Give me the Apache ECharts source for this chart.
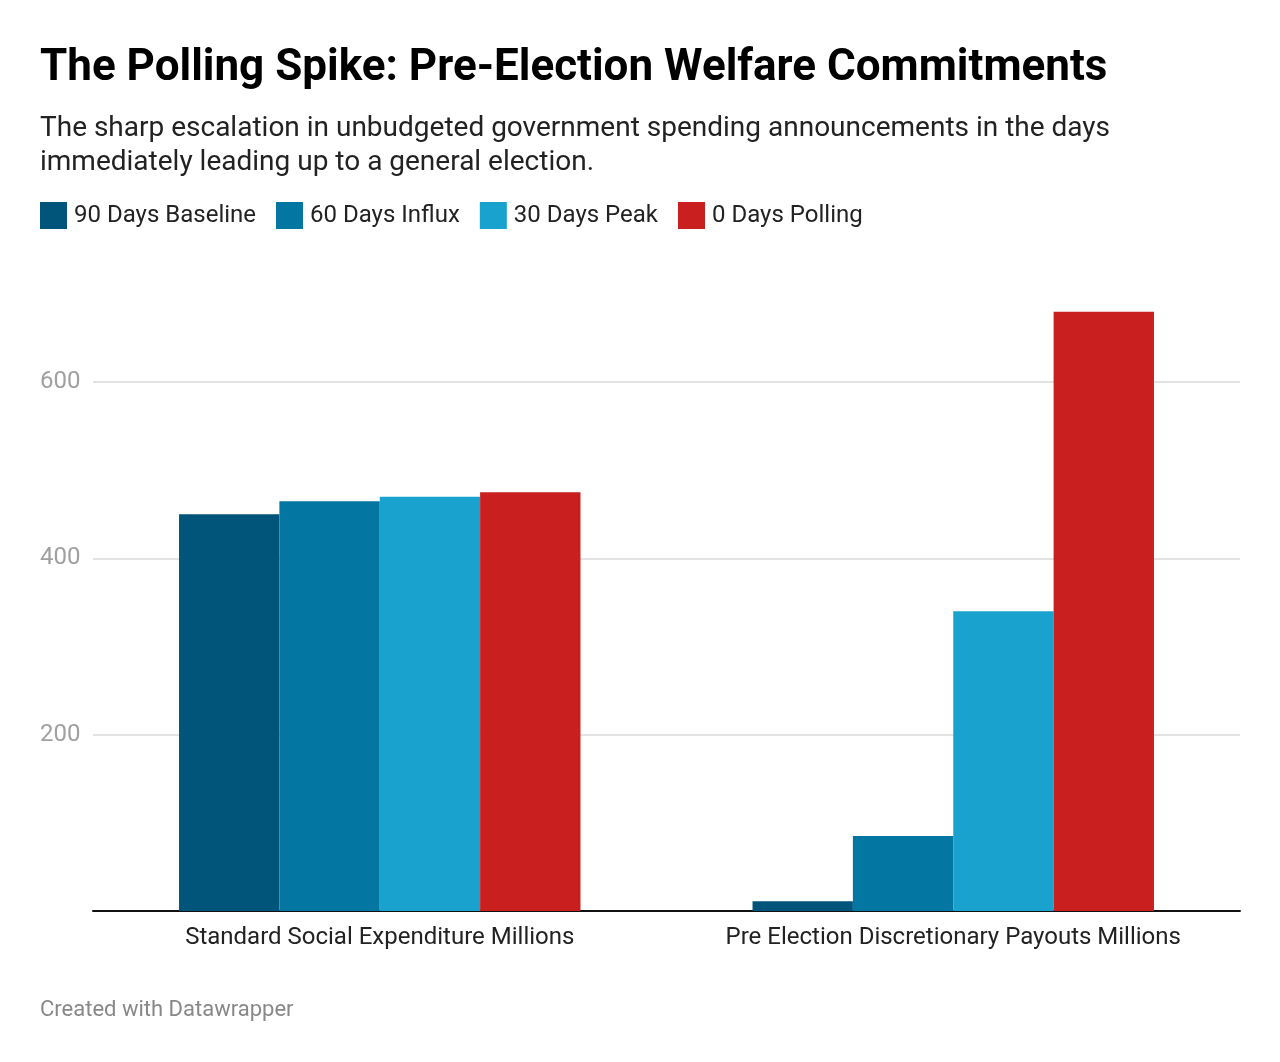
<!DOCTYPE html>
<html lang="en">
<head>
    <meta charset="UTF-8">
    <title>The Polling Spike</title>
    <script src="https://cdn.jsdelivr.net/npm/echarts@6/dist/echarts.min.js"></script>
    <style>
        html, body { margin: 0; padding: 0; background: #fff; }
    </style>
</head>
<body>
    <div id="main" style="width: 1280px;height: 1062px"></div>
    <script>
        // chart data
        var categories = ['Standard Social Expenditure Millions', 'Pre Election Discretionary Payouts Millions'];
        var seriesNames = ['90 Days Baseline', '60 Days Influx', '30 Days Peak', '0 Days Polling'];
        var days90 = [450, 11];
        var days60 = [465, 85];
        var days30 = [470, 340];
        var days0 = [475, 680];
        var colors = ['#01547a', '#0377a2', '#19a2ce', '#c91f1f'];

        var font = 'Roboto, "Noto Sans", sans-serif';
        var seriesData = [days90, days60, days30, days0];

        var mCharts = echarts.init(document.getElementById('main'));
        var option = {
            animation: false,
            color: colors,
            textStyle: { fontFamily: font },
            title: [
                {
                    text: 'The Polling Spike: Pre-Election Welfare Commitments',
                    left: 40, top: 43, padding: 0,
                    textStyle: { fontSize: 44, fontWeight: 'bold', color: '#000', lineHeight: 52, fontFamily: font }
                },
                {
                    text: 'The sharp escalation in unbudgeted government spending announcements in the days\nimmediately leading up to a general election.',
                    left: 40, top: 112, padding: 0,
                    textStyle: { fontSize: 28, fontWeight: 'normal', color: '#222', lineHeight: 34, fontFamily: font }
                },
                {
                    text: 'Created with Datawrapper',
                    left: 40, top: 996, padding: 0,
                    textStyle: { fontSize: 22, fontWeight: 'normal', color: '#888', lineHeight: 28, fontFamily: font }
                }
            ],
            legend: {
                left: 40, top: 202,
                icon: 'rect',
                itemWidth: 27, itemHeight: 27,
                itemGap: 20,
                padding: 0,
                selectedMode: false,
                textStyle: { fontSize: 24, color: '#222', padding: [8, 0, 0, 2], fontFamily: font },
                data: seriesNames
            },
            grid: { left: 93, right: 40, top: 294, bottom: 151, containLabel: false },
            xAxis: {
                type: 'category',
                data: categories,
                axisLine: { lineStyle: { color: '#111', width: 2 } },
                axisTick: { show: false },
                axisLabel: { fontSize: 24, color: '#222', margin: 15, interval: 0, fontFamily: font }
            },
            yAxis: {
                type: 'value',
                min: 0, max: 700, interval: 200,
                axisLine: { show: false },
                axisTick: { show: false },
                axisLabel: {
                    fontSize: 24, color: '#a0a0a0', align: 'left', margin: 53,
                    showMinLabel: false, showMaxLabel: false, fontFamily: font
                },
                splitLine: {
                    showMinLine: false, showMaxLine: false,
                    lineStyle: { color: '#e3e3e3', width: 2 }
                }
            },
            series: seriesNames.map(function (name, i) {
                return {
                    name: name,
                    type: 'bar',
                    data: seriesData[i],
                    barGap: '0%',
                    barCategoryGap: '30%',
                    itemStyle: { color: colors[i] }
                };
            })
        };
        mCharts.setOption(option);
    </script>
</body>
</html>
